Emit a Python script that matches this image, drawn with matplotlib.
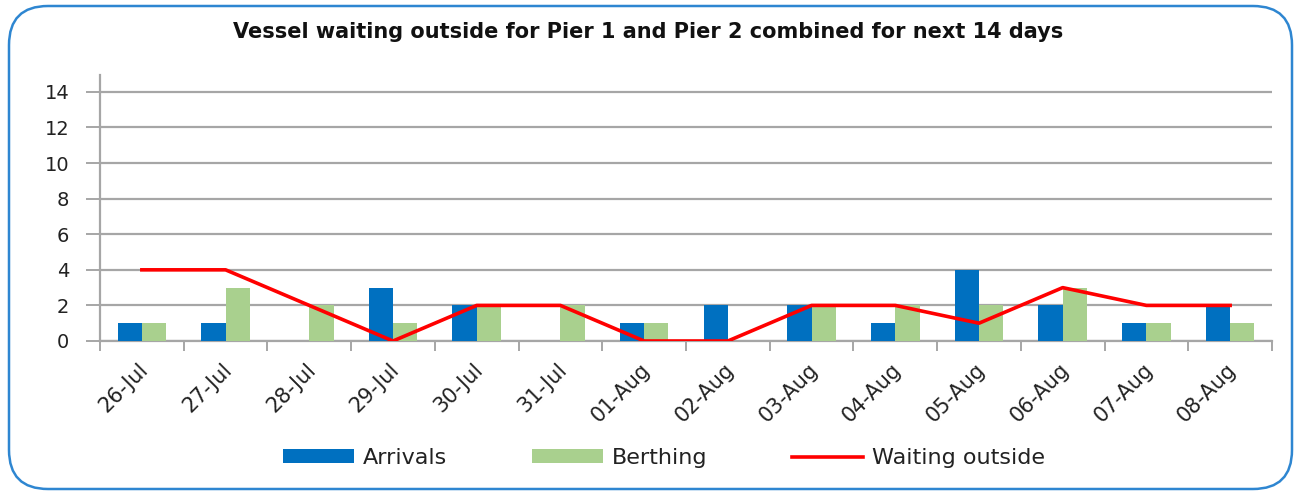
import matplotlib
matplotlib.use("Agg")
import matplotlib.pyplot as plt
import matplotlib.transforms as mtransforms
import numpy as np
from matplotlib.patches import FancyBboxPatch

categories = ["26-Jul", "27-Jul", "28-Jul", "29-Jul", "30-Jul", "31-Jul", "01-Aug",
              "02-Aug", "03-Aug", "04-Aug", "05-Aug", "06-Aug", "07-Aug", "08-Aug"]
arrivals = [1, 1, 0, 3, 2, 0, 1, 2, 2, 1, 4, 2, 1, 2]
berthing = [1, 3, 2, 1, 2, 2, 1, 0, 2, 2, 2, 3, 1, 1]
waiting = [4, 4, 2, 0, 2, 2, 0, 0, 2, 2, 1, 3, 2, 2]
yticks = [0, 2, 4, 6, 8, 10, 12, 14]

plt.rcParams['font.family'] = ['DejaVu Sans']

fig = plt.figure(figsize=(13.02, 4.95), dpi=100)
W, H = 1302, 495

# rounded border
border = FancyBboxPatch((9 / W, 6 / H), (1292 - 9) / W, (489 - 6) / H,
                        boxstyle="round,pad=0,rounding_size=0.03",
                        transform=fig.transFigure, fill=False,
                        edgecolor="#2E86D1", linewidth=1.8, mutation_aspect=W / H)
fig.patches.append(border)

ax = fig.add_axes([100 / W, 1 - 341 / H, (1272 - 100) / W, (341 - 75) / H])
x = np.arange(len(categories))
bw = 0.29
b1 = ax.bar(x - bw / 2, arrivals, width=bw, color="#0070C0", label="Arrivals", zorder=3)
b2 = ax.bar(x + bw / 2, berthing, width=bw, color="#A9D08E", label="Berthing", zorder=3)
l1, = ax.plot(x, waiting, color="#FF0000", linewidth=2.6, label="Waiting outside", zorder=4)

ax.set_xlim(-0.5, len(categories) - 0.5)
ax.set_ylim(0, 14.95)
ax.set_yticks(yticks)
ax.set_yticklabels([str(v) for v in yticks], fontsize=14, color="#222222")
ax.yaxis.grid(True, color="#A6A6A6", linewidth=1.6, zorder=0)
ax.set_axisbelow(True)
ax.tick_params(axis='y', length=10, width=1.4, color="#A6A6A6", pad=12)

ax.set_xticks(np.arange(-0.5, len(categories), 1.0), minor=False)
ax.set_xticklabels([])
ax.set_xticks(x, minor=True)
ax.set_xticklabels(categories, minor=True, rotation=45, ha='right', va='top',
                   rotation_mode='anchor', fontsize=15, color="#222222")
ax.tick_params(axis='x', which='major', length=7, width=1.4, color="#A6A6A6")
ax.tick_params(axis='x', which='minor', length=0, pad=13)
offset = mtransforms.ScaledTranslation(-4 / 100, 0, fig.dpi_scale_trans)
for lab in ax.xaxis.get_minorticklabels():
    lab.set_transform(lab.get_transform() + offset)

for s in ['top', 'right']:
    ax.spines[s].set_visible(False)
for s in ['left', 'bottom']:
    ax.spines[s].set_color("#A6A6A6")
    ax.spines[s].set_linewidth(1.6)

fig.text(648 / W, 1 - 32 / H, "Vessel waiting outside for Pier 1 and Pier 2 combined for next 14 days",
         ha='center', va='center', fontsize=15, fontweight='semibold', color="#111111")

fig.legend(handles=[b1, b2, l1], loc='center', bbox_to_anchor=(664 / W, 1 - 458 / H), ncol=3,
           frameon=False, fontsize=16, handlelength=3.2, handleheight=0.55, columnspacing=3.8,
           handletextpad=0.4, labelcolor="#222222")

fig.savefig("out.png", dpi=100)
